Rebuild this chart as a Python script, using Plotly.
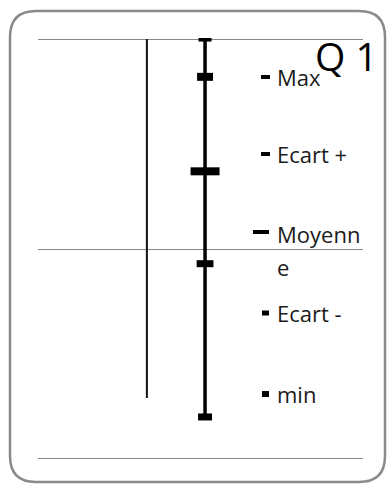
import plotly.graph_objects as go

# ---- data ----
series_names = ["Max", "Ecart +", "Moyenne", "Ecart -", "min"]
series_values = [20.0, 18.2, 13.7, 9.3, 2.0]
series_x = 5.14          # position of the Q 1 column on the x scale
thin_line_x = 3.35       # second vertical line
thin_line_values = [20.0, 2.9]
y_ticks = [0, 10, 20]
title_text = "Q 1"

# ---- styling ----
W, H = 387, 484
L, R, T, B = 38, 363, 38, 460
PW, PH = R - L, B - T


def px_x(x):
    return (x - L) / PW


def px_y(y):
    return (B - y) / PH


marker_sizes = [9.3, 11.4, 20.7, 12.0, 10.0]
marker_heights = [5, 8, 8, 7, 7]

fig = go.Figure()

# thin vertical line
fig.add_trace(go.Scatter(
    x=[thin_line_x] * len(thin_line_values), y=thin_line_values,
    mode="lines", line=dict(color="#111111", width=2),
    showlegend=False, hoverinfo="skip"))

# main high-low line from max to min
fig.add_trace(go.Scatter(
    x=[series_x, series_x], y=[max(series_values), min(series_values)],
    mode="lines", line=dict(color="black", width=3.5),
    showlegend=False, hoverinfo="skip"))

for name, val, s, h in zip(series_names, series_values, marker_sizes, marker_heights):
    fig.add_trace(go.Scatter(
        x=[series_x], y=[val], mode="markers", name=name,
        marker=dict(symbol="line-ew", size=s, color="black",
                    line=dict(color="black", width=h)),
        showlegend=False))

# ---- legend (manual, in paper coords) ----
legend_y = [77, 154, 232, 313, 394]
key_x = [(261, 270), (261, 270), (253, 269), (262, 269), (262, 269)]
key_h = [4, 4, 4, 5, 6]
shapes = []
annotations = []
for name, ly, (kx0, kx1), kh in zip(series_names, legend_y, key_x, key_h):
    shapes.append(dict(type="rect", xref="paper", yref="paper",
                       x0=px_x(kx0), x1=px_x(kx1),
                       y0=px_y(ly + kh / 2), y1=px_y(ly - kh / 2),
                       fillcolor="black", line=dict(width=0)))
    if name == "Moyenne":
        parts = [("Moyenn", ly + 2), ("e", ly + 35)]
    else:
        parts = [(name, ly)]
    for txt, ty in parts:
        annotations.append(dict(
            text=txt, xref="paper", yref="paper",
            x=px_x(275), y=px_y(ty), xanchor="left", yanchor="middle",
            showarrow=False, font=dict(family="Open Sans", size=22, color="#1a1a1a")))

# title
annotations.append(dict(
    text=title_text, xref="paper", yref="paper",
    x=px_x(346), y=px_y(55), xanchor="center", yanchor="middle",
    showarrow=False, font=dict(family="Open Sans", size=39, color="black")))

# rounded frame
x0, x1 = px_x(10), px_x(385)
y0, y1 = px_y(482), px_y(11)
rx, ry = 26 / PW, 26 / PH
path = (f"M {x0+rx},{y1} L {x1-rx},{y1} Q {x1},{y1} {x1},{y1-ry} "
        f"L {x1},{y0+ry} Q {x1},{y0} {x1-rx},{y0} L {x0+rx},{y0} "
        f"Q {x0},{y0} {x0},{y0+ry} L {x0},{y1-ry} Q {x0},{y1} {x0+rx},{y1} Z")
shapes.append(dict(type="path", xref="paper", yref="paper", path=path,
                   line=dict(color="#8a8a8a", width=2.5), layer="below"))

fig.update_layout(
    width=W, height=H,
    margin=dict(l=L, r=W - R, t=T, b=H - B),
    paper_bgcolor="white", plot_bgcolor="white",
    shapes=shapes, annotations=annotations,
    xaxis=dict(range=[0, 10], showgrid=False, zeroline=False,
               showticklabels=False, ticks="", showline=False),
    yaxis=dict(range=[-0.05, 20.05], tickvals=y_ticks, showgrid=True,
               gridcolor="#888888", gridwidth=1, zeroline=False,
               showticklabels=False, ticks="", showline=False),
)

fig.write_html("out.html", config={"displayModeBar": False},
               post_script="document.body.style.margin='0';document.body.style.overflow='hidden';")
